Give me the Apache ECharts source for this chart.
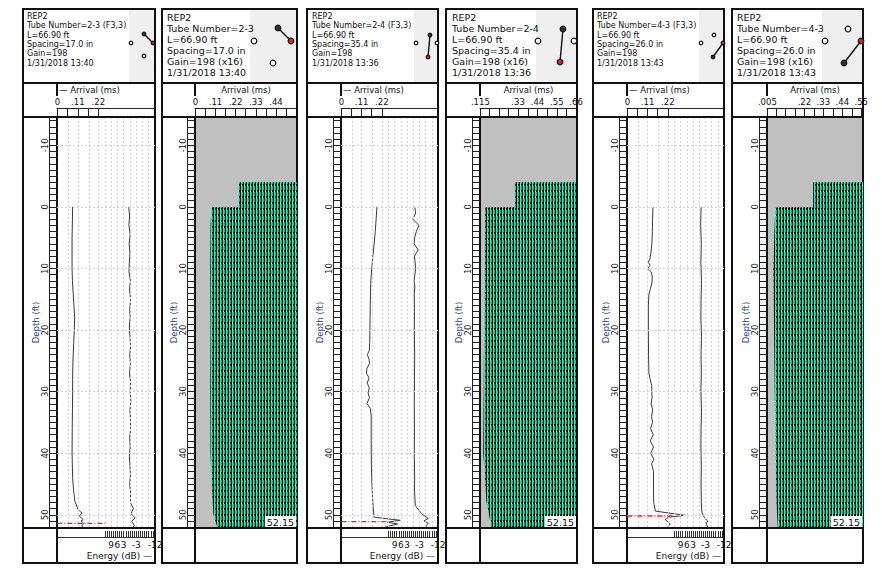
<!DOCTYPE html>
<html>
<head>
<meta charset="utf-8">
<script src="https://cdn.jsdelivr.net/npm/echarts@6.0.0/dist/echarts.min.js"></script>
<style>
html, body { margin: 0; padding: 0; background: #fff; }
#main { width: 882px; height: 568px; }
</style>
</head>
<body>
<div id="main"></div>
<script>
// depth axis (ft), shared by all six logs
var depthMin = -14.6, depthMax = 52.15;
var depthLabels = [-10, 0, 10, 20, 30, 40, 50];

// arrival axis ticks / labels (ms)
var arrTicksLine = [0, 0.055, 0.11, 0.165, 0.22];
var arrLabelsLine = [0, 0.11, 0.22];
var arrivalGrid = [0.055, 0.11, 0.165, 0.22];
var arrTicks23 = [0, 0.055, 0.11, 0.165, 0.22, 0.275, 0.33, 0.385, 0.44, 0.495, 0.55];
var arrLabels23 = [0, 0.11, 0.22, 0.33, 0.44];
var arrTicks24 = [0.115, 0.165, 0.22, 0.275, 0.33, 0.385, 0.44, 0.495, 0.55, 0.605, 0.66];
var arrLabels24 = [0.115, 0.33, 0.44, 0.55, 0.66];
var arrTicks43 = [0.005, 0.055, 0.11, 0.165, 0.22, 0.275, 0.33, 0.385, 0.44, 0.495, 0.55];
var arrLabels43 = [0.005, 0.22, 0.33, 0.44, 0.55];

// energy axis (dB)
var energyLabels = [9, 6, 3, -3, -12];
var energyGrid = [12, 9, 6, 3, 0, -3, -6, -9];

// tube 2-3 : [arrival ms, depth ft] and [energy dB, depth ft]
var arrival23 = [[0.082,0],[0.081,2],[0.079,5],[0.079,8],[0.079,10],[0.081,12],[0.085,14],[0.089,16],[0.093,18],[0.091,20],[0.088,22],[0.085,24],[0.083,26],[0.082,28],[0.082,30],[0.081,33],[0.080,36],[0.079,40],[0.082,44],[0.087,46],[0.094,47.8],[0.112,49.2],[0.132,49.7],[0.118,50.2],[0.139,50.8],[0.127,51.0],[0.141,51.4],[0.132,51.8],[0.138,52.15]];
var energy23 = [[0.6,0],[0.2,1.5],[0.5,3],[-0.1,4.5],[0.4,6],[0.0,7.5],[0.3,9],[0.5,10.5],[-0.2,12],[0.2,13.5],[-0.3,15],[0.1,16.5],[-0.1,18],[0.3,19.5],[0.0,21],[-0.3,22.5],[0.1,24],[-0.2,25.5],[0.2,27],[-0.3,28.5],[-0.1,30],[-0.4,31.5],[0.0,33],[-0.2,34.5],[-0.3,36],[0.1,37.5],[-0.1,39],[0.3,40.5],[0.0,42],[-0.2,43.5],[0.1,45],[-0.3,46.5],[-0.2,48],[-1.6,49],[-0.5,49.8],[-2.4,50.5],[-0.8,51.1],[-2.1,51.7],[-1.2,52.15]];
var red23 = [[0,51.4],[0.257,51.4]];

// tube 2-4
var arrival24 = [[0.193,0],[0.189,2],[0.184,4],[0.178,6],[0.171,8],[0.165,10],[0.160,12],[0.158,14],[0.157,16],[0.156,18],[0.155,20],[0.154,22],[0.152,23.3],[0.141,24.0],[0.150,24.7],[0.153,25.4],[0.139,26.2],[0.136,27.0],[0.151,27.8],[0.140,28.6],[0.152,29.4],[0.145,30.2],[0.153,31.0],[0.139,31.9],[0.158,32.8],[0.162,34],[0.162,38],[0.163,42],[0.166,45],[0.172,48.6],[0.178,50.4],[0.320,50.9],[0.250,51.2],[0.305,51.5],[0.238,52.0],[0.245,52.15]];
var energy24 = [[-0.7,0],[-1.2,1],[0.2,2],[-2.8,3],[-1.5,4],[-0.7,5],[-0.4,6],[-2.4,7],[-0.6,8],[-1.2,10],[-0.4,12],[-0.8,13],[-0.5,14],[-0.6,17],[-0.5,20],[-0.7,24],[-0.6,28],[-0.5,32],[-0.6,36],[-0.5,40],[-0.7,44],[-0.6,46],[-1.0,48.5],[-4.0,49.8],[-7.3,50.6],[-5.2,51.0],[-7.3,51.4],[-6.1,51.8],[-6.5,52.15]];
var red24 = [[0,51.1],[0.254,51.1]];

// tube 4-3
var arrival43 = [[0.139,0],[0.137,2],[0.136,4],[0.133,6],[0.128,7.5],[0.122,8.5],[0.113,9.0],[0.124,9.5],[0.111,10.0],[0.128,10.5],[0.135,11.2],[0.134,12.2],[0.126,13.2],[0.117,14.2],[0.114,16],[0.114,20],[0.115,24],[0.117,27],[0.124,28],[0.132,29],[0.134,31],[0.129,32],[0.138,33],[0.131,34],[0.137,35],[0.126,36],[0.141,37],[0.124,38],[0.142,39],[0.127,40],[0.144,41],[0.132,41.7],[0.142,43],[0.142,46],[0.143,48],[0.152,49.4],[0.314,50.1],[0.222,50.4],[0.206,50.8],[0.233,51.5],[0.215,52.15]];
var energy43 = [[-0.9,0],[-0.7,3],[-1.0,6],[-0.8,9],[-1.1,12],[-0.9,15],[-0.8,18],[-1.1,21],[-0.9,24],[-1.0,27],[-0.8,30],[-1.1,33],[-0.9,36],[-0.8,39],[-1.0,42],[-0.9,45],[-1.0,48],[-1.3,49.6],[-2.5,50.5],[-4.1,51.0],[-3.3,51.5],[-4.4,52.15]];
var red43 = [[0,50.2],[0.249,50.2]];

// waterfall blocks: first-arrival edge [ms, ft] and upper block [left ms, top ft]
var wfEdge23 = [[0.088,0],[0.083,3],[0.082,10],[0.083,20],[0.082,30],[0.083,40],[0.090,46],[0.099,50],[0.121,52.15]];
var wfTop23 = [0.236, -4];
var wfEdge24 = [[0.143,0],[0.140,6],[0.136,20],[0.132,40],[0.150,48],[0.179,52.15]];
var wfTop24 = [0.313, -4];
var wfEdge43 = [[0.051,0],[0.045,5],[0.040,10],[0.044,20],[0.048,30],[0.052,40],[0.058,48],[0.066,52.15]];
var wfTop43 = [0.271, -4];

var FONT = 'DejaVu Sans';
var INK = '#111';

// striped fill for the waveform image
var stripeCanvas = document.createElement('canvas');
stripeCanvas.width = 3; stripeCanvas.height = 6;
var sc = stripeCanvas.getContext('2d');
sc.fillStyle = '#1ae8ae'; sc.fillRect(0, 0, 3, 6);
sc.fillStyle = '#030303'; sc.fillRect(0, 0, 1, 6);
sc.fillStyle = '#12b587'; sc.fillRect(2, 0, 1, 4);
sc.fillStyle = '#1c1c1c'; sc.fillRect(2, 4, 1, 2);
sc.fillStyle = '#e8fff8'; sc.fillRect(1, 5, 1, 1);
var stripes = { image: stripeCanvas, repeat: 'repeat', imageWidth: 3, imageHeight: 6 };

var depthTicks = [];
for (var d = -14; d <= 52; d++) depthTicks.push(d);
var energyTicks = [];
for (var e = 12; e >= -12; e--) energyTicks.push(e);

function fmtMs(v) {
    if (Math.abs(v) < 1e-9) return '0';
    return (Math.round(v * 1000) / 1000).toString().replace(/^0\./, '.');
}

var panels = [
    { o: 23, L: 57, R: 155, g: 129, kind: 'line', fs: 8, lh: 9.4, tx: 27,
      lines: ['REP2', 'Tube Number=2-3 (F3,3)', 'L=66.90 ft', 'Spacing=17.0 in', 'Gain=198', '1/31/2018 13:40'],
      arrival: arrival23, energy: energy23, red: red23,
      icon: { r: 1.8, open: [[131,43],[144,56]], from: [144,34], to: [153,43] } },
    { o: 162, L: 195, R: 297, g: 250, kind: 'wf', fs: 9.5, lh: 11, tx: 167,
      lines: ['REP2', 'Tube Number=2-3', 'L=66.90 ft', 'Spacing=17.0 in', 'Gain=198 (x16)', '1/31/2018 13:40'],
      min: -0.002, max: 0.555, ticks: arrTicks23, labels: arrLabels23, edge: wfEdge23, top: wfTop23,
      icon: { r: 2.8, open: [[254,41],[273,63]], from: [278,28], to: [291,41] } },
    { o: 307, L: 341, R: 438, g: 414, kind: 'line', fs: 8, lh: 9.4, tx: 312,
      lines: ['REP2', 'Tube Number=2-4 (F3,3)', 'L=66.90 ft', 'Spacing=35.4 in', 'Gain=198', '1/31/2018 13:36'],
      arrival: arrival24, energy: energy24, red: red24,
      icon: { r: 1.8, open: [[416,43],[437,43]], from: [430,35], to: [428,57] } },
    { o: 446, L: 480, R: 577, g: 536, kind: 'wf', fs: 9.5, lh: 11, tx: 452,
      lines: ['REP2', 'Tube Number=2-4', 'L=66.90 ft', 'Spacing=35.4 in', 'Gain=198 (x16)', '1/31/2018 13:36'],
      min: 0.113, max: 0.665, ticks: arrTicks24, labels: arrLabels24, edge: wfEdge24, top: wfTop24,
      icon: { r: 2.8, open: [[538,41],[574,41]], from: [563,29], to: [560,62] } },
    { o: 593, L: 627, R: 724, g: 699, kind: 'line', fs: 8, lh: 9.4, tx: 597,
      lines: ['REP2', 'Tube Number=4-3 (F3,3)', 'L=66.90 ft', 'Spacing=26.0 in', 'Gain=198', '1/31/2018 13:43'],
      arrival: arrival43, energy: energy43, red: red43,
      icon: { r: 1.8, open: [[701,43],[714,35]], from: [713,57], to: [723,43] } },
    { o: 732, L: 767, R: 863, g: 822, kind: 'wf', fs: 9.5, lh: 11, tx: 737,
      lines: ['REP2', 'Tube Number=4-3', 'L=66.90 ft', 'Spacing=26.0 in', 'Gain=198 (x16)', '1/31/2018 13:43'],
      min: 0.003, max: 0.56, ticks: arrTicks43, labels: arrLabels43, edge: wfEdge43, top: wfTop43,
      icon: { r: 2.8, open: [[825,41],[848,29]], from: [844,63], to: [861,41] } }
];

var grids = [], xAxes = [], yAxes = [], series = [], graphics = [];
var TOP = 117, BOTTOM = 528;

function lineSeries(xi, yi, data, extra) {
    var s = {
        type: 'line', xAxisIndex: xi, yAxisIndex: yi, data: data,
        symbol: 'none', showSymbol: false, z: 3,
        lineStyle: { color: '#3a3a3a', width: 1 }
    };
    for (var k in extra) s[k] = extra[k];
    return s;
}

function gridLines(xs, ys) {
    var data = [];
    xs.forEach(function (v) { data.push({ xAxis: v }); });
    ys.forEach(function (v) { data.push({ yAxis: v }); });
    return {
        silent: true, symbol: 'none', label: { show: false }, animation: false,
        lineStyle: { color: '#d2d2d2', type: [2, 2], width: 1 },
        data: data
    };
}

function wfRender(edge, top, tMax) {
    return function (params, api) {
        var pts;
        if (params.dataIndex === 0) {
            pts = [[top[0], top[1]], [tMax, top[1]], [tMax, edge[0][1]], [top[0], edge[0][1]]];
        } else {
            pts = edge.concat([[tMax, edge[edge.length - 1][1]], [tMax, edge[0][1]]]);
        }
        return {
            type: 'polygon',
            shape: { points: pts.map(function (p) { return api.coord(p); }) },
            style: { fill: stripes, stroke: null }
        };
    };
}

panels.forEach(function (p, gi) {
    var isLine = p.kind === 'line';
    grids.push({
        left: p.L, top: TOP, width: p.R - p.L, height: BOTTOM - TOP,
        show: true, borderColor: INK, borderWidth: 2,
        backgroundColor: isLine ? '#fff' : '#c0c0c0'
    });

    var dy = yAxes.length;
    yAxes.push({
        gridIndex: gi, type: 'value', inverse: true, min: depthMin, max: depthMax, position: 'left',
        axisLine: { show: true, onZero: false, lineStyle: { color: INK, width: 2 } },
        axisTick: { show: true, inside: false, length: 8, customValues: depthTicks, lineStyle: { color: '#222', width: 1 } },
        axisLabel: { show: true, customValues: depthLabels, rotate: 90, margin: 7.5, fontSize: 8.5, color: '#222',
                     showMinLabel: true, showMaxLabel: true },
        splitLine: { show: false },
        name: 'Depth (ft)', nameLocation: 'middle', nameRotate: 90, nameGap: 16.5, nameMoveOverlap: false,
        nameTextStyle: { color: '#2a4a8a', fontSize: 8.5 }
    });
    yAxes.push({
        gridIndex: gi, type: 'value', inverse: true, min: depthMin, max: depthMax, position: 'left', offset: 8,
        axisLine: { show: true, onZero: false, lineStyle: { color: '#222', width: 1 } },
        axisTick: { show: false }, axisLabel: { show: false }, splitLine: { show: false }
    });

    var ax = xAxes.length;
    xAxes.push({
        gridIndex: gi, type: 'value', position: 'top', offset: 9,
        min: isLine ? -0.002 : p.min, max: isLine ? 0.525 : p.max,
        axisLine: { show: true, onZero: false, lineStyle: { color: '#222', width: 1 } },
        axisTick: { show: true, inside: true, length: 8, customValues: isLine ? arrTicksLine : p.ticks, lineStyle: { color: '#222' } },
        axisLabel: { customValues: isLine ? arrLabelsLine : p.labels, formatter: fmtMs, margin: 2, fontSize: 8.5, color: INK,
                     hideOverlap: false, showMinLabel: true, showMaxLabel: true },
        splitLine: { show: false }
    });

    if (isLine) {
        var ex = xAxes.length;
        xAxes.push({
            gridIndex: gi, type: 'value', position: 'bottom', offset: 9, inverse: true, min: -12, max: 35,
            axisLine: { show: true, onZero: false, lineStyle: { color: '#333', width: 1 } },
            axisTick: { show: true, inside: true, length: 6, customValues: energyTicks, lineStyle: { color: '#333' } },
            axisLabel: { customValues: energyLabels, margin: 3, fontSize: 9, color: INK, hideOverlap: false,
                         showMinLabel: true, showMaxLabel: true },
            splitLine: { show: false }
        });
        series.push(lineSeries(ax, dy, p.arrival, { markLine: gridLines(arrivalGrid, depthLabels) }));
        series.push(lineSeries(ex, dy, p.energy, { markLine: gridLines(energyGrid, []) }));
        series.push(lineSeries(ax, dy, p.red, { z: 5, lineStyle: { color: '#ff1f1f', width: 1.3, type: [5, 2, 1, 2] } }));
    } else {
        series.push({
            type: 'custom', coordinateSystem: 'cartesian2d', xAxisIndex: ax, yAxisIndex: dy,
            clip: true, z: 3, data: [[p.min, 0], [p.min, 0]],
            renderItem: wfRender(p.edge, p.top, p.max)
        });
        graphics.push({
            type: 'text', z: 120, x: p.R - 1, y: BOTTOM - 1,
            style: { text: '52.15', fontSize: 9.5, fontFamily: FONT, fill: INK, align: 'right', verticalAlign: 'bottom',
                     backgroundColor: '#fff', padding: [1, 2, 0, 2] }
        });
    }

    // frames
    var stroke = { stroke: INK, lineWidth: 2, fill: null };
    graphics.push({ type: 'rect', z: 5, shape: { x: p.g, y: 10, width: p.R - p.g - 1, height: 72 }, style: { fill: '#efefef' } });
    graphics.push({ type: 'rect', z: 100, shape: { x: p.o, y: 9, width: p.R - p.o, height: 74 }, style: stroke });
    graphics.push({ type: 'rect', z: 100, shape: { x: p.o, y: 83, width: p.R - p.o, height: 34 }, style: stroke });
    graphics.push({ type: 'line', z: 100, shape: { x1: p.L, y1: 83, x2: p.L, y2: 96 }, style: stroke });
    graphics.push({ type: 'line', z: 100, shape: { x1: p.o, y1: 117, x2: p.o, y2: 528 }, style: stroke });
    graphics.push({ type: 'rect', z: 100, shape: { x: p.o, y: 528, width: p.R - p.o, height: 35 }, style: stroke });
    graphics.push({ type: 'line', z: 100, shape: { x1: p.L, y1: 528, x2: p.L, y2: 563 }, style: stroke });

    // header text
    graphics.push({
        type: 'text', z: 110, x: p.tx, y: 11.5,
        style: { text: p.lines.join('\n'), fontSize: p.fs, lineHeight: p.lh, fontFamily: FONT, fill: INK, verticalAlign: 'top' }
    });

    // tube diagram
    var ic = p.icon;
    ic.open.forEach(function (c) {
        graphics.push({ type: 'circle', z: 110, shape: { cx: c[0], cy: c[1], r: ic.r }, style: { fill: '#fff', stroke: INK, lineWidth: 1.2 } });
    });
    graphics.push({ type: 'line', z: 110, shape: { x1: ic.from[0], y1: ic.from[1], x2: ic.to[0], y2: ic.to[1] }, style: { stroke: INK, lineWidth: 1.4 } });
    graphics.push({ type: 'circle', z: 111, shape: { cx: ic.from[0], cy: ic.from[1], r: ic.r }, style: { fill: '#333', stroke: INK, lineWidth: 1.2 } });
    graphics.push({ type: 'circle', z: 111, shape: { cx: ic.to[0], cy: ic.to[1], r: ic.r }, style: { fill: '#e02020', stroke: INK, lineWidth: 1.2 } });

    // axis titles
    if (isLine) {
        graphics.push({ type: 'text', z: 110, x: p.L + 2, y: 90,
            style: { text: '\u2014 Arrival (ms)', fontSize: 8.5, fontFamily: FONT, fill: INK, verticalAlign: 'middle' } });
        graphics.push({ type: 'text', z: 110, x: p.R - 3, y: 556,
            style: { text: 'Energy (dB) \u2014', fontSize: 9, fontFamily: FONT, fill: INK, align: 'right', verticalAlign: 'middle' } });
    } else {
        graphics.push({ type: 'text', z: 110, x: (p.L + p.R) / 2, y: 90,
            style: { text: 'Arrival (ms)', fontSize: 8.5, fontFamily: FONT, fill: INK, align: 'center', verticalAlign: 'middle' } });
    }
});

var chart = echarts.init(document.getElementById('main'), null, { renderer: 'svg' });
chart.setOption({
    animation: false,
    backgroundColor: '#fff',
    textStyle: { fontFamily: FONT },
    grid: grids,
    xAxis: xAxes,
    yAxis: yAxes,
    series: series,
    graphic: { elements: graphics }
});
</script>
</body>
</html>
